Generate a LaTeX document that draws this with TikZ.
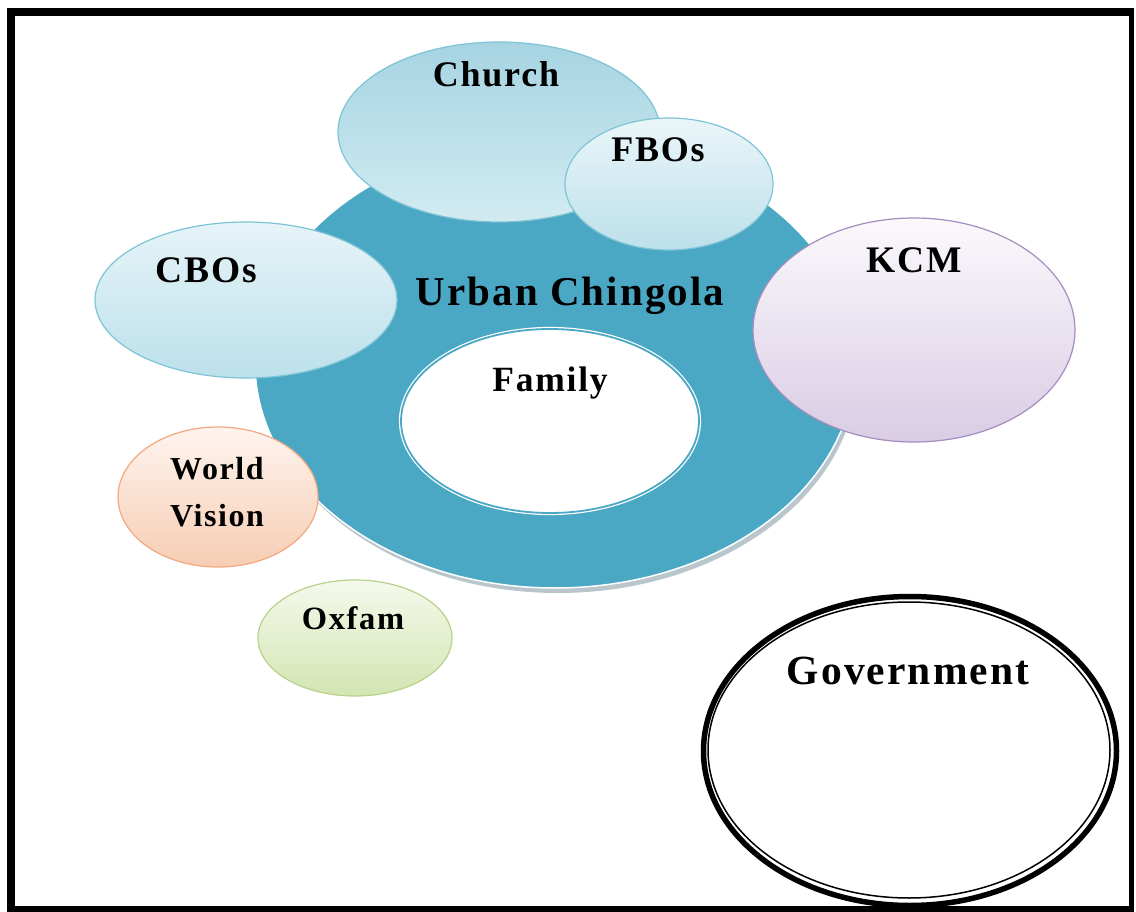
\documentclass[tikz,border=0pt]{standalone}
\usepackage{fontspec}
\setmainfont{Liberation Serif}[LetterSpace=5]
\usetikzlibrary{shapes.geometric}
\definecolor{ringteal}{HTML}{4AA8C5}
\definecolor{ringshadow}{HTML}{B9C6CB}
\definecolor{blueline}{HTML}{7EC4D4}
\definecolor{churchtop}{HTML}{A6D4E2}
\definecolor{churchbot}{HTML}{D2EBF2}
\definecolor{fbotop}{HTML}{EAF6F9}
\definecolor{fbobot}{HTML}{BCE0EB}
\definecolor{cbotop}{HTML}{E6F4F8}
\definecolor{cbobot}{HTML}{BCE0EB}
\definecolor{kcmtop}{HTML}{FBF9FC}
\definecolor{kcmbot}{HTML}{D9CCE4}
\definecolor{kcmline}{HTML}{A48DBF}
\definecolor{wvtop}{HTML}{FEF4EE}
\definecolor{wvbot}{HTML}{F7CDB4}
\definecolor{wvline}{HTML}{F3A87E}
\definecolor{oxtop}{HTML}{F5F9EC}
\definecolor{oxbot}{HTML}{D3E5B2}
\definecolor{oxline}{HTML}{B8D28C}
\begin{document}
\begin{tikzpicture}[x=1pt,y=-1pt,
  bubble/.style={ellipse, inner sep=0pt, line width=1.2pt},
  lbl/.style={font=\bfseries\fontsize{33}{47}\selectfont, inner sep=0pt, align=center}]
\useasboundingbox (0,0) rectangle (1136,912);
% frame
\fill[black] (7,8) rectangle (1134,912);
\fill[white] (15,16) rectangle (1129,906);
% Urban Chingola ring
\fill[ringshadow] (558,368) ellipse [x radius=300, y radius=225];
\node[bubble, minimum width=600pt, minimum height=450pt, fill=ringteal, draw=white, line width=1.5pt] (ring) at (555,363) {};
\node[lbl, font=\bfseries\fontsize{41}{40}\selectfont] (ringtxt) at (570,296) {Urban Chingola};
% Family
\node[bubble, minimum width=298pt, minimum height=184pt, fill=white, draw=white, line width=1.2pt, double=ringteal, double distance=1.8pt] (family) at (550,421) {};
\node[lbl, font=\bfseries\fontsize{35.5}{40}\selectfont] (familytxt) at (550,383) {Family};
% CBOs
\node[bubble, minimum width=302pt, minimum height=156pt, top color=cbotop, bottom color=cbobot, draw=blueline] (cbos) at (246,300) {};
\node[lbl, font=\bfseries\fontsize{37.5}{40}\selectfont] (cbostxt) at (206,270) {CBOs};
% Church
\node[bubble, minimum width=322pt, minimum height=180pt, top color=churchtop, bottom color=churchbot, draw=blueline] (church) at (499,132) {};
\node[lbl, font=\bfseries\fontsize{36}{40}\selectfont] (churchtxt) at (496,74) {Church};
% FBOs
\node[bubble, minimum width=208pt, minimum height=132pt, top color=fbotop, bottom color=fbobot, draw=blueline] (fbos) at (669,184) {};
\node[lbl, font=\bfseries\fontsize{36}{40}\selectfont] (fbostxt) at (658,150) {FBOs};
% KCM
\node[bubble, minimum width=322pt, minimum height=224pt, top color=kcmtop, bottom color=kcmbot, draw=kcmline] (kcm) at (914,330) {};
\node[lbl, font=\bfseries\fontsize{37.5}{40}\selectfont] (kcmtxt) at (914,260) {KCM};
% World Vision
\node[bubble, minimum width=200pt, minimum height=140pt, top color=wvtop, bottom color=wvbot, draw=wvline] (wv) at (218,497) {};
\node[lbl, font=\bfseries\fontsize{32}{47}\selectfont] (wvtxt) at (217,492) {World\\Vision};
% Oxfam
\node[bubble, minimum width=194pt, minimum height=116pt, top color=oxtop, bottom color=oxbot, draw=oxline] (oxfam) at (355,638) {};
\node[lbl, font=\bfseries\fontsize{32.5}{40}\selectfont] (oxfamtxt) at (353,618) {Oxfam};
% Government
\draw[line width=5.5pt] (910,751) ellipse [x radius=206.5, y radius=154.5];
\node[ellipse, inner sep=0pt, minimum width=402pt, minimum height=296pt, draw=black, line width=1.5pt] (gov) at (909,750) {};
\node[lbl, font=\bfseries\fontsize{41.5}{40}\selectfont] (govtxt) at (908,671) {Government};
\end{tikzpicture}
\end{document}
